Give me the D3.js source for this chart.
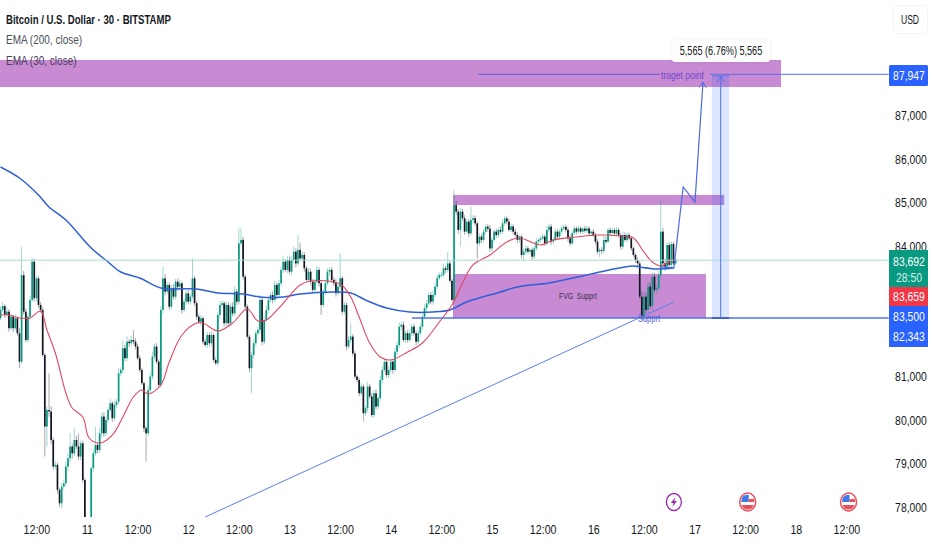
<!DOCTYPE html>
<html><head><meta charset="utf-8">
<script src="https://cdnjs.cloudflare.com/ajax/libs/d3/7.8.5/d3.min.js"></script>
<style>html,body{margin:0;padding:0;background:#fff}svg{display:block}text{font-family:"Liberation Sans",sans-serif;white-space:pre}</style>
</head><body><svg id="c" width="932" height="550"></svg>
<script>
// Hours are counted from 11 Apr 00:00. Bars are 30 minutes apart, starting 10 Apr 03:00.
const firstBarHour=-21, firstOpen=82000;
const closes=[
82340,82530,82620,82415,82490,82110,82375,82110,82340,81995,
81340,83330,82490,81840,82375,82760,83640,82800,83255,82645,
82530,81495,79850,80230,80195,79540,78930,78970,78395,78085,
78470,78545,78930,79120,79390,79235,79540,79390,79160,79465,
78620,77630,77245,77475,78890,79235,79425,79310,79695,80080,
79695,80000,80230,80385,80040,80345,80420,81075,81150,81650,
81420,81800,81765,81840,81800,81690,81420,81150,80845,79810,
79695,80690,81000,81455,81690,81340,80805,82530,83255,82950,
83105,82605,83030,82835,83180,83065,83140,82530,82720,82910,
82720,82835,83255,82685,82375,82260,82340,81800,81725,81955,
81765,81955,81380,81305,82415,82645,82685,82225,82645,82225,
82605,82450,82950,82720,84060,84140,83295,82605,81915,81190,
81495,81765,81995,82070,82760,81800,82300,82530,82760,82875,
82760,83105,82875,83140,83450,83640,83450,83680,83410,83680,
83870,83600,83910,83715,83795,83487,83220,83410,83180,82990,
83180,83450,83145,82645,82950,83145,83410,83450,83220,83145,
82915,83065,83260,82490,82645,81690,81840,81917,81530,81000,
80920,80615,80770,80155,80270,80770,80540,80115,80615,80310,
80500,80920,81150,81340,81035,81150,81340,81150,81570,81720,
82145,82190,81840,81995,81840,81995,82145,81995,81800,81995,
82145,82375,82570,82680,82875,82720,82875,83065,83260,83335,
83335,83487,83450,83600,83200,82760,84940,84790,84370,84790,
84640,84330,84560,84290,84600,84640,84520,84060,84215,84140,
84330,84445,84400,83945,84140,84330,84250,84370,84330,84520,
84636,84560,84370,84450,84330,84255,84140,84215,83795,83870,
83945,83870,83910,83755,83945,84100,84140,84175,84215,84060,
84370,84445,84100,84150,84330,84215,84330,84405,84440,84370,
84175,84060,84300,84405,84330,84405,84330,84400,84350,84405,
84290,84330,84255,84100,83870,83910,83890,84138,84100,84368,
84300,84368,84290,84370,84253,83985,84253,84138,84253,84176,
83947,83794,83679,83600,82836,82376,82836,82530,83066,82620,
83296,82990,83027,83334,84330,83602,83526,84023,83564,84047,
83600,83692];
const wickUp=[
60,80,90,40,100,60,70,50,90,40,
120,650,100,80,60,90,80,70,60,50,
70,60,40,80,845,120,60,90,50,40,
80,90,110,100,300,70,270,100,300,60,
60,50,40,60,50,90,420,60,120,80,
100,70,60,110,50,90,70,120,60,180,
80,120,60,90,230,80,60,70,50,40,
60,100,90,120,60,80,50,90,270,100,
70,60,80,90,60,70,90,50,60,70,
80,60,460,60,50,60,70,40,60,70,
60,80,40,60,70,90,60,50,80,60,
80,100,120,60,340,260,70,60,50,40,
70,90,60,80,120,60,80,90,70,60,
90,100,60,80,70,120,60,100,80,90,
120,80,340,170,80,60,50,90,70,60,
80,100,60,70,50,90,80,60,70,60,
90,80,570,50,70,60,90,300,60,50,
40,60,80,50,70,110,60,80,70,90,
60,90,80,70,60,80,70,60,90,80,
100,60,80,50,70,90,60,70,60,80,
70,60,90,80,60,70,100,80,90,60,
70,110,60,260,70,50,350,90,60,80,
60,70,50,60,300,70,60,50,80,60,
70,50,60,80,60,50,70,60,80,90,
60,50,70,60,50,70,60,40,50,60,
70,60,50,60,70,80,50,60,70,50,
90,70,60,50,70,60,50,60,40,50,
60,80,40,50,40,60,50,40,60,50,
50,40,60,50,60,50,60,90,70,50,
60,50,40,60,50,40,80,60,50,60,
40,50,40,60,50,120,90,80,110,90,
100,80,70,90,730,90,110,60,70,60,
50,30];
const wickDown=[
60,50,40,70,60,80,50,90,60,70,
150,60,70,50,60,70,50,80,60,70,
60,50,690,460,120,100,70,60,80,90,
120,70,60,100,90,120,70,60,80,90,
60,50,40,50,70,90,60,80,70,100,
80,60,70,50,90,60,70,50,60,90,
70,60,90,50,60,70,50,60,40,90,
650,60,80,70,60,50,70,60,80,90,
60,70,50,60,70,90,60,80,50,70,
60,70,50,60,70,50,90,60,40,70,
80,60,50,40,60,70,60,80,70,60,
50,70,60,80,60,50,70,60,50,90,
575,80,70,60,90,80,60,50,70,60,
80,60,90,50,60,70,50,80,60,70,
60,90,50,60,70,80,50,60,90,70,
60,50,80,230,60,70,50,90,60,70,
80,50,60,70,60,90,60,70,60,50,
60,70,50,190,60,80,60,50,70,60,
70,60,80,50,60,70,60,90,50,70,
60,80,50,70,60,50,70,60,80,60,
50,70,60,80,50,60,70,50,60,40,
60,50,70,60,50,40,60,80,90,385,
60,70,60,90,50,70,60,345,60,70,
50,60,70,80,60,50,70,60,50,40,
50,60,40,50,60,50,70,60,80,155,
60,50,70,75,60,50,70,60,40,50,
60,50,70,60,40,50,60,50,40,60,
70,60,40,50,60,40,50,60,40,50,
60,50,40,70,60,130,70,60,50,40,
50,60,40,50,60,70,50,40,60,50,
60,50,70,60,50,80,90,70,100,60,
80,60,90,70,80,100,90,80,70,60,
40,30];
const ema200Bars=[1,10,19,24,32,44,52,58,67,77,94,104,116,124,135,143,159,167,175,184,195,206,214,222,238,246,261,277,285,301,304,312,320];
const ema200=[85816,85563,85172,84897,84598,83954,83633,83403,83265,83035,83012,82920,82897,82828,82828,82897,82943,82920,82736,82575,82483,82483,82529,82713,82943,83058,83150,83311,83403,83541,83518,83472,83495];
const ema30Bars=[1,5,10,15,20,23,27,32,35,40,43,48,54,59,64,68,71,77,81,87,94,97,104,111,118,123,127,133,143,148,162,167,171,176,181,186,194,201,209,215,220,225,233,241,247,257,263,274,284,295,301,306,310,314,317,320];
const ema30=[82414,82414,82345,82345,82506,82069,81540,80621,80276,80069,79586,79471,79655,80069,80529,80690,80598,80805,81334,81954,82230,82230,82046,82230,82552,82276,82299,82575,83104,83196,83127,82828,82368,81770,81449,81380,81563,81770,82253,82644,83150,83564,83793,84092,84184,84023,84138,84207,84253,84230,84184,83862,83633,83541,83610,83679];
const dateTickHours=[-12,0,12,24,36,48,60,72,84,96,108,120,132,144,156,168,180];
const dateTickLabels=["12:00","11","12:00","12","12:00","13","12:00","14","12:00","15","12:00","16","12:00","17","12:00","18","12:00"];
const priceTicks=[78000,79000,80000,81000,84000,85000,86000,87000];
// Drawn zones: start hour, end hour, top price, bottom price
const zoneStart=[-21,86.75,86.75], zoneEnd=[164.5,151,146.7], zoneTop=[88277,85173,83357], zoneBottom=[87656,84943,82343];
const lastPrice=83692, targetPrice=87947, supportPrice=82343;
const trendHours=[28,139.1], trendPrices=[77770,82713];
const pathHours=[135.8,139.1,141.3,144.1,146], pathPrices=[83518,83495,85357,85012,87771];
const measureHours=[148.1,150.2,152.2], measurePrices=[87908,82343];
const eventHours=[139.1,156.6,180.5], eventKinds=["bolt","flag","flag"];
const sideLabels=[["87,947",75,"#fff"],["83,692",261,"#fff"],["28:50",277,"#d6f5ec"],["83,659",296,"#fff"],["83,500",316,"#fff"],["82,343",336,"#fff"]];

const W=932,H=550,plotR=884,plotB=517;
const x=d3.scaleLinear().domain([-20.62,188.9]).range([0,plotR]);
const y=d3.scaleLinear().domain([78000,87000]).range([507,115.5]);
const svg=d3.select("#c");
// The reference face is narrower than any installed one: squeeze each text horizontally.
const squeeze=(sel,k)=>sel.each(function(){this.setAttribute("textLength",this.getComputedTextLength()*k);this.setAttribute("lengthAdjust","spacingAndGlyphs");});
const defs=svg.append("defs");
defs.append("clipPath").attr("id","clip").append("rect").attr("width",plotR).attr("height",plotB);
const mk=defs.append("marker").attr("id","arrow").attr("viewBox","-8 -6 10 12").attr("refX",0).attr("refY",0).attr("markerWidth",9).attr("markerHeight",10).attr("markerUnits","userSpaceOnUse").attr("orient","auto");
mk.append("path").attr("d","M-7,-4.5L0,0L-7,4.5").attr("fill","none").attr("stroke","#4a6be0").attr("stroke-width",1);

const blue="#4f74e6";
const plot=svg.append("g").attr("clip-path","url(#clip)");
zoneStart.forEach((s,i)=>plot.append("rect").attr("x",x(s)).attr("y",y(zoneTop[i])).attr("width",x(zoneEnd[i])-x(s)).attr("height",y(zoneBottom[i])-y(zoneTop[i])).attr("fill","#c78ad3"));
plot.append("rect").attr("x",x(measureHours[0])).attr("width",x(measureHours[2])-x(measureHours[0])).attr("y",y(measurePrices[0])).attr("height",y(measurePrices[1])-y(measurePrices[0])).attr("fill","#2962ff").attr("opacity",.16);

const candles=closes.map((c,i)=>{const o=i?closes[i-1]:firstOpen;return {h:firstBarHour+i/2,o,c,hi:Math.max(o,c)+wickUp[i],lo:Math.min(o,c)-wickDown[i]};});
const up="#089981",dn="#131722";
const g=plot.append("g");
g.selectAll("line").data(candles).join("line").attr("x1",d=>x(d.h)).attr("x2",d=>x(d.h)).attr("y1",d=>y(d.hi)).attr("y2",d=>y(d.lo)).attr("stroke",d=>d.c>=d.o?up:dn).attr("stroke-width",.7).attr("opacity",.55);
g.selectAll("rect").data(candles).join("rect").attr("x",d=>x(d.h)-.85).attr("width",1.7).attr("y",d=>y(Math.max(d.o,d.c))).attr("height",d=>Math.max(.8,Math.abs(y(d.o)-y(d.c)))).attr("fill",d=>d.c>=d.o?up:dn);

const lineGen=d3.line().curve(d3.curveCatmullRom.alpha(.5));
const emaPts=(bars,vals)=>bars.map((b,i)=>[x(firstBarHour+b/2),y(vals[i])]);
plot.append("path").attr("d",lineGen(emaPts(ema200Bars,ema200))).attr("fill","none").attr("stroke","#2f5fd8").attr("stroke-width",1.5);
plot.append("path").attr("d",lineGen(emaPts(ema30Bars,ema30))).attr("fill","none").attr("stroke","#e0475f").attr("stroke-width",1.1);

svg.append("line").attr("x1",0).attr("x2",plotR+5).attr("y1",y(lastPrice)+.8).attr("y2",y(lastPrice)+.8).attr("stroke","#a8dccf").attr("stroke-width",1);

const seg=(h1,p1,h2,p2,col,w)=>svg.append("line").attr("x1",x(h1)).attr("x2",x(h2)).attr("y1",y(p1)).attr("y2",y(p2)).attr("stroke",col).attr("stroke-width",w);
seg(trendHours[0],trendPrices[0],trendHours[1],trendPrices[1],"#5b7fe8",1);
seg(77,supportPrice,190,supportPrice,"#4f74e6",1.5);
seg(92.7,targetPrice,135.8,targetPrice,"#5a5fdc",1);
seg(147.7,targetPrice,190,targetPrice,"#5a6fe6",1);
seg(measureHours[0],supportPrice,measureHours[2],supportPrice,"#2f55c8",1.5);
seg(measureHours[0],measurePrices[0],measureHours[2],measurePrices[0],"#5a6fe6",1);
svg.append("line").attr("x1",x(measureHours[1])).attr("x2",x(measureHours[1])).attr("y1",y(supportPrice)).attr("y2",y(measurePrices[0])).attr("stroke",blue).attr("stroke-width",1).attr("marker-end","url(#arrow)");
svg.append("path").attr("d",d3.line()(pathHours.map((h,i)=>[x(h),y(pathPrices[i])]))).attr("fill","none").attr("stroke","#4a6be0").attr("stroke-width",1.2).attr("marker-end","url(#arrow)");

squeeze(svg.append("text").attr("x",578).attr("y",299).attr("text-anchor","middle").attr("font-size",9.5).attr("fill","#3a3250").text("FVG  Supprt"),.72);
squeeze(svg.append("text").attr("x",649).attr("y",322).attr("text-anchor","middle").attr("font-size",11).attr("fill","#5a62d8").text("Supprt"),.68);
squeeze(svg.append("text").attr("x",682.5).attr("y",79).attr("text-anchor","middle").attr("font-size",11).attr("fill","#7048d0").text("traget point"),.78);

svg.append("rect").attr("x",672).attr("y",40).attr("width",98).attr("height",22).attr("rx",3).attr("fill","#fff").style("filter","drop-shadow(0 0 2px rgba(0,0,0,.07))");
squeeze(svg.append("text").attr("x",721).attr("y",55).attr("text-anchor","middle").attr("font-size",13).attr("fill","#131722").text("5,565 (6.76%) 5,565"),.7);

const yAxis=d3.axisRight(y).tickValues(priceTicks).tickSize(0).tickPadding(0).tickFormat(d3.format(","));
const ya=svg.append("g").attr("transform","translate(911,0)").call(yAxis);
ya.select(".domain").remove();
ya.attr("text-anchor","middle");
ya.selectAll("text").attr("font-size",13).attr("fill","#131722").style("font-family",'"Liberation Sans"');
squeeze(ya.selectAll("text"),.8);
const xAxis=d3.axisBottom(x).tickValues(dateTickHours).tickSize(0).tickPadding(0).tickFormat((d,i)=>dateTickLabels[i]);
const xa=svg.append("g").attr("transform","translate(0,525)").call(xAxis);
xa.select(".domain").remove();
xa.selectAll("text").attr("font-size",13).attr("fill","#131722").style("font-family",'"Liberation Sans"');
squeeze(xa.selectAll("text"),.82);

const tag=(y0,h,c)=>svg.append("rect").attr("x",889).attr("y",y0).attr("width",39).attr("height",h).attr("fill",c);
svg.append("rect").attr("x",889).attr("y",65).attr("width",39).attr("height",21).attr("rx",1.5).attr("fill","#2962ff");
tag(250,37,"#089981");tag(287,19,"#f23645");tag(306,41,"#2962ff");
sideLabels.forEach(l=>squeeze(svg.append("text").attr("x",909).attr("y",l[1]+4.5).attr("text-anchor","middle").attr("font-size",13).attr("fill",l[2]).text(l[0]),.8));

svg.append("rect").attr("x",893.5).attr("y",5.5).attr("width",34).attr("height",28).attr("rx",4).attr("fill","#fff").attr("stroke","#f0f3fa");
squeeze(svg.append("text").attr("x",910).attr("y",24).attr("text-anchor","middle").attr("font-size",13).attr("fill","#131722").text("USD"),.66);

squeeze(svg.append("text").attr("x",6).attr("y",24).attr("font-size",13.5).attr("font-weight",700).attr("fill","#131722").text("Bitcoin / U.S. Dollar · 30 · BITSTAMP"),.71);
squeeze(svg.append("text").attr("x",6).attr("y",44).attr("font-size",13.5).attr("fill","#4a4e5a").text("EMA (200, close)"),.74);
squeeze(svg.append("text").attr("x",6).attr("y",65).attr("font-size",13.5).attr("fill","#4a4058").text("EMA (30, close)"),.74);

eventHours.forEach((h,i)=>{
  const e=svg.append("g").attr("transform",`translate(${x(h)},502)`);
  if(eventKinds[i]==="bolt"){
    e.append("ellipse").attr("rx",7.5).attr("ry",8.5).attr("fill","#fff").attr("stroke","#9c27b0").attr("stroke-width",1.3);
    e.append("path").attr("d","M1.5,-5L-3,1L-0.3,1L-1.5,5L3,-1L0.3,-1Z").attr("fill","#9c27b0");
  } else {
    e.append("ellipse").attr("rx",8).attr("ry",9).attr("fill","#fff").attr("stroke","#e8505b").attr("stroke-width",1.5);
    e.append("path").attr("d","M-6,-3.5A6.5,7.5 0 0 1 1,-7V0H-6.5Z").attr("fill","#3f7be8");
    e.append("rect").attr("x",1).attr("y",-3).attr("width",5.5).attr("height",3).attr("fill","#e8505b");
    e.append("path").attr("d","M-6,3H6A6.5,7.5 0 0 1 -6,3Z").attr("fill","#e8505b");
  }
});
</script></body></html>
